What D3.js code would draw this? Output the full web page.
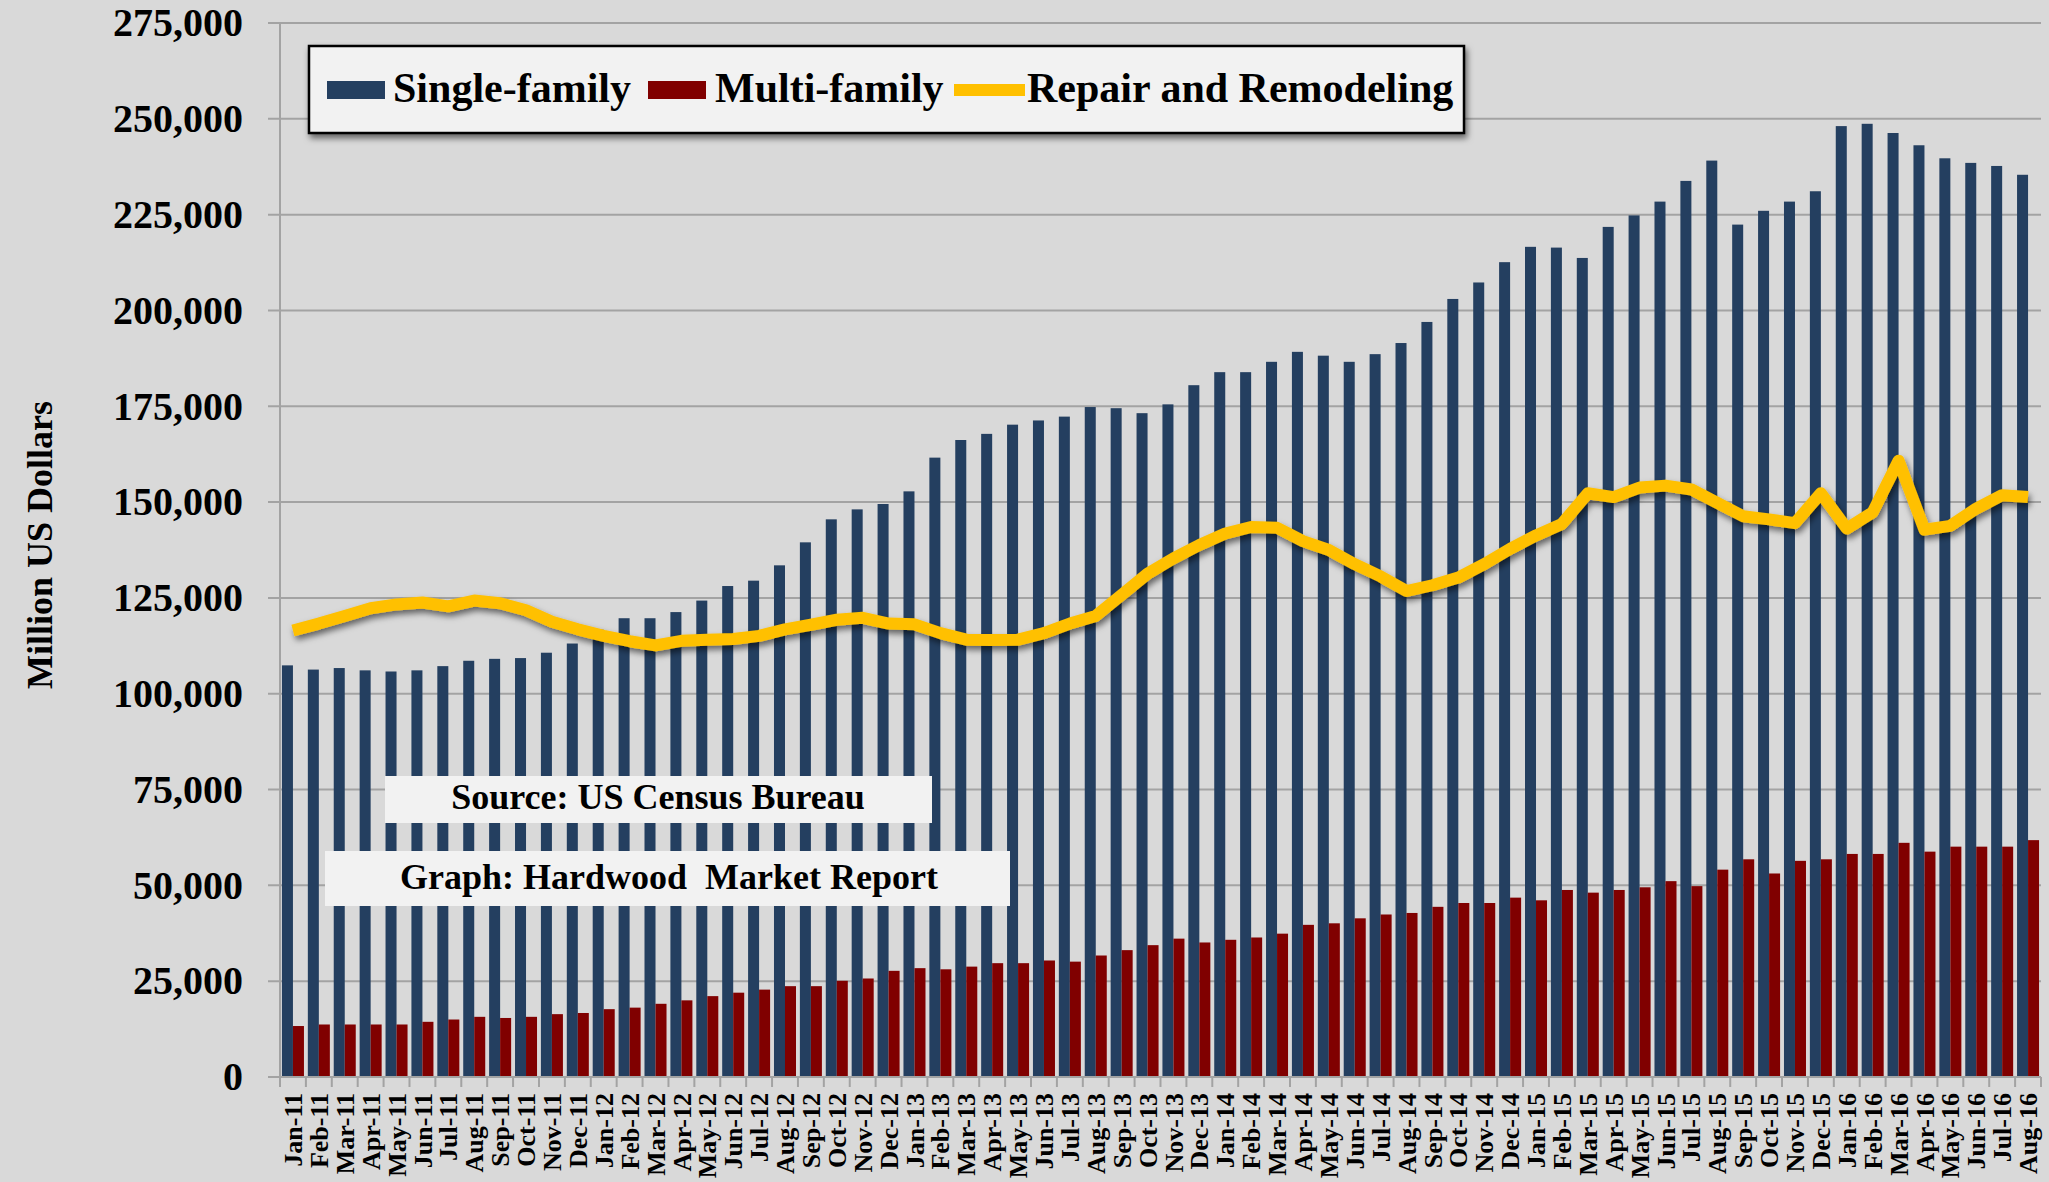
<!DOCTYPE html>
<html>
<head>
<meta charset="utf-8">
<script src="https://cdn.jsdelivr.net/npm/d3@7"></script>
<style>
  html, body { margin: 0; padding: 0; background: #d9d9d9; }
  svg { display: block; }
  text { font-family: "Liberation Serif", "Times New Roman", serif; font-weight: bold; fill: #000; }
</style>
</head>
<body>
<svg width="2049" height="1182"></svg>
<script>
// data
var months = ['Jan-11','Feb-11','Mar-11','Apr-11','May-11','Jun-11','Jul-11','Aug-11','Sep-11','Oct-11','Nov-11','Dec-11',
  'Jan-12','Feb-12','Mar-12','Apr-12','May-12','Jun-12','Jul-12','Aug-12','Sep-12','Oct-12','Nov-12','Dec-12',
  'Jan-13','Feb-13','Mar-13','Apr-13','May-13','Jun-13','Jul-13','Aug-13','Sep-13','Oct-13','Nov-13','Dec-13',
  'Jan-14','Feb-14','Mar-14','Apr-14','May-14','Jun-14','Jul-14','Aug-14','Sep-14','Oct-14','Nov-14','Dec-14',
  'Jan-15','Feb-15','Mar-15','Apr-15','May-15','Jun-15','Jul-15','Aug-15','Sep-15','Oct-15','Nov-15','Dec-15',
  'Jan-16','Feb-16','Mar-16','Apr-16','May-16','Jun-16','Jul-16','Aug-16'];

var singleFamily = [107400,106300,106700,106100,105800,106100,107200,108600,109100,109300,110700,113100,
  116700,119700,119700,121300,124300,128100,129500,133500,139500,145500,148100,149500,
  152800,161600,166200,167800,170200,171300,172300,174800,174500,173200,175500,180500,
  183900,183900,186600,189200,188200,186600,188600,191500,197000,203000,207300,212600,
  216600,216400,213700,221800,224800,228400,233800,239100,222400,226000,228400,231100,
  248100,248700,246300,243100,239700,238500,237700,235400];

var multiFamily = [13300,13700,13700,13700,13700,14400,15000,15700,15400,15700,16400,16700,
  17700,18100,19100,20000,21100,22000,22800,23700,23700,25100,25700,27700,
  28400,28100,28800,29700,29700,30400,30100,31700,33100,34400,36100,35100,
  35800,36400,37400,39700,40100,41400,42400,42800,44400,45400,45400,46800,
  46100,48800,48100,48800,49500,51100,49800,54100,56800,53100,56400,56800,
  58200,58200,61100,58800,60100,60100,60100,61800];

var repairRemodel = [116500,118300,120300,122300,123300,123800,122800,124300,123600,121800,118800,116800,
  115100,113700,112600,113800,114100,114300,115100,116800,118000,119300,119800,118300,
  118100,115800,114100,114000,114100,115800,118300,120300,125800,131300,135300,138800,
  141800,143500,143300,139800,137500,133800,130600,126800,128300,130300,133800,137800,
  141300,144300,152300,151300,153800,154300,153300,149800,146300,145500,144500,152300,
  143100,147300,160800,142800,143800,148300,151800,151300];

var yTicks = [0,25000,50000,75000,100000,125000,150000,175000,200000,225000,250000,275000];

var seriesNames = ['Single-family','Multi-family','Repair and Remodeling'];
var seriesColors = ['#243f60','#800000','#ffc000'];

var svg = d3.select('svg');
var plot = {l: 280, r: 2041, t: 23, b: 1077};

var defs = svg.append('defs');
var shadow = defs.append('filter').attr('id','shadow')
    .attr('x','-10%').attr('y','-30%').attr('width','120%').attr('height','170%');
shadow.append('feDropShadow').attr('dx',2).attr('dy',4).attr('stdDeviation',3)
    .attr('flood-color','#000').attr('flood-opacity',0.55);

//scales
var x = d3.scaleBand().domain(months).range([plot.l, plot.r])
    .paddingInner(0.15).paddingOuter(0.075);
var xSeries = d3.scaleBand().domain([0,1]).range([0, x.bandwidth()]);
var y = d3.scaleLinear().domain([0, 275000]).range([plot.b, plot.t]);
var step = x.step();

//gridlines
svg.append('g').selectAll('line').data(yTicks).enter().append('line')
    .attr('x1', plot.l - 12).attr('x2', plot.r)
    .attr('y1', function(d){ return y(d); }).attr('y2', function(d){ return y(d); })
    .attr('stroke', '#a3a3a3').attr('stroke-width', 2);

//y axis labels
var yAxis = d3.axisLeft(y).tickValues(yTicks).tickSize(0).tickPadding(37)
    .tickFormat(d3.format(','));
var yG = svg.append('g').attr('transform','translate('+plot.l+',0)').call(yAxis);
yG.select('.domain').remove();
yG.selectAll('text').style('font-size','40px');

svg.append('line').attr('x1', plot.l).attr('x2', plot.l)
    .attr('y1', plot.t).attr('y2', plot.b + 10)
    .attr('stroke', '#a3a3a3').attr('stroke-width', 2);

//bars
var barG = svg.append('g');
[singleFamily, multiFamily].forEach(function(vals, s){
  barG.selectAll('.bar'+s).data(vals).enter().append('rect')
    .attr('class','bar'+s)
    .attr('x', function(d,i){ return x(months[i]) + xSeries(s); })
    .attr('width', xSeries.bandwidth())
    .attr('y', function(d){ return y(d); })
    .attr('height', function(d){ return y(0) - y(d); })
    .attr('fill', seriesColors[s]);
});

//x axis
svg.append('line').attr('x1', plot.l).attr('x2', plot.r)
    .attr('y1', plot.b).attr('y2', plot.b)
    .attr('stroke', '#a3a3a3').attr('stroke-width', 2);
svg.append('g').selectAll('line').data(months.concat(['end'])).enter().append('line')
    .attr('x1', function(d,i){ return plot.l + i*step; })
    .attr('x2', function(d,i){ return plot.l + i*step; })
    .attr('y1', plot.b).attr('y2', plot.b + 10)
    .attr('stroke', '#a3a3a3').attr('stroke-width', 2);
var xAxis = d3.axisBottom(x).tickSize(0);
var xG = svg.append('g').attr('transform','translate(0,'+plot.b+')').call(xAxis);
xG.select('.domain').remove();
xG.selectAll('text')
    .style('font-size','26px')
    .attr('text-anchor','end')
    .attr('transform','translate(0,16) rotate(-90)')
    .attr('x', 0).attr('y', 0).attr('dy','0.35em');

//line
var line = d3.line()
    .x(function(d,i){ return x(months[i]) + x.bandwidth()/2; })
    .y(function(d){ return y(d); });
svg.append('path').datum(repairRemodel)
    .attr('d', line)
    .attr('fill','none')
    .attr('stroke', seriesColors[2])
    .attr('stroke-width', 12)
    .attr('stroke-linejoin','round')
    .attr('filter','url(#shadow)');

//y title
svg.append('text')
    .attr('transform','translate(52,545) rotate(-90)')
    .attr('text-anchor','middle')
    .style('font-size','36px')
    .text('Million US Dollars');

//legend
var legend = svg.append('g');
legend.append('rect').attr('x',309).attr('y',46).attr('width',1155).attr('height',87)
    .attr('fill','#f2f2f2').attr('stroke','#000').attr('stroke-width',2.5)
    .attr('filter','url(#shadow)');
var legendX = [327, 648, 954];
var textX = [393, 715, 1027];
seriesNames.forEach(function(name, i){
  if (i < 2) {
    legend.append('rect').attr('x', legendX[i]).attr('y', 81).attr('width', 58).attr('height', 18)
      .attr('fill', seriesColors[i]);
  } else {
    legend.append('line').attr('x1', legendX[i]).attr('x2', legendX[i] + 71)
      .attr('y1', 90).attr('y2', 90)
      .attr('stroke', seriesColors[i]).attr('stroke-width', 12);
  }
  legend.append('text').attr('x', textX[i]).attr('y', 102)
    .style('font-size','42px').text(name);
});

//notes
var notes = [
  {text: 'Source: US Census Bureau', x: 385, y: 776, w: 547, h: 47, cx: 658, by: 809},
  {text: 'Graph: Hardwood  Market Report', x: 325, y: 851, w: 685, h: 55, cx: 669, by: 889}
];
notes.forEach(function(n){
  svg.append('rect').attr('x', n.x).attr('y', n.y).attr('width', n.w).attr('height', n.h)
    .attr('fill', '#f2f2f2');
  svg.append('text').attr('x', n.cx).attr('y', n.by)
    .attr('text-anchor','middle')
    .style('font-size','36px').style('white-space','pre')
    .text(n.text);
});
</script>
</body>
</html>
